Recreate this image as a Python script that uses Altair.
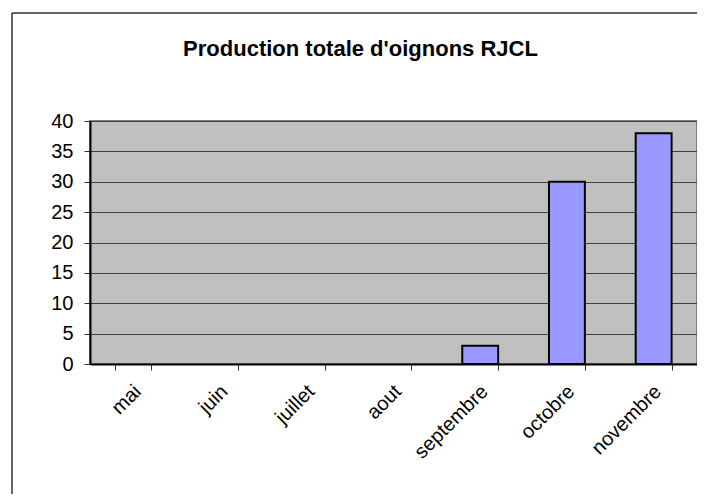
import altair as alt
import pandas as pd

months = ["mai", "juin", "juillet", "aout", "septembre", "octobre", "novembre"]
production = [0, 0, 0, 0, 3, 30, 38]
y_ticks = [0, 5, 10, 15, 20, 25, 30, 35, 40]
title_text = "Production totale d'oignons RJCL"

df = pd.DataFrame({"mois": months, "production": production})
one = pd.DataFrame({"t": [title_text]})

FONT = "Liberation Sans"

bars = alt.Chart(df).transform_filter("datum.production > 0").mark_bar(
    fill="#9999FF", stroke="black", strokeWidth=2
).encode(
    x=alt.X(
        "mois:N",
        sort=months,
        scale=alt.Scale(domain=months, paddingInner=0.586, paddingOuter=0.293),
        axis=alt.Axis(
            title=None, labelAngle=315, labelAlign="right", labelBaseline="top",
            labelFont=FONT, labelFontSize=20, labelColor="black",
            tickBand="extent", ticks=True, tickSize=6, tickColor="#333333",
            domainColor="black", domainWidth=2, labelPadding=11, labelOffset=-3,
            grid=False,
        ),
    ),
    y=alt.Y(
        "production:Q",
        scale=alt.Scale(domain=[0, 40], nice=False),
        axis=alt.Axis(
            title=None, values=y_ticks, grid=True, gridColor="#404040", gridWidth=1,
            labelFont=FONT, labelFontSize=20, labelColor="black",
            tickSize=6, tickColor="#333333", domainColor="black", domainWidth=2,
            labelPadding=11,
        ),
    ),
)

title = alt.Chart(one).mark_text(
    font=FONT, fontSize=22, fontWeight="bold", color="black", align="center", baseline="alphabetic"
).encode(text="t:N", x=alt.value(270.5), y=alt.value(-65))

left_border = alt.Chart(one).mark_rule(color="#333333", strokeWidth=1.5).encode(
    x=alt.value(-78), y=alt.value(-108), y2=alt.value(400)
)
top_border = alt.Chart(one).mark_rule(color="#333333", strokeWidth=1.5).encode(
    x=alt.value(-78), x2=alt.value(700), y=alt.value(-108)
)

chart = alt.layer(left_border, top_border, title, bars).properties(
    width=607, height=243,
    autosize=alt.AutoSizeParams(type="none"),
    padding={"left": 82, "top": 113, "right": 0, "bottom": 130},
    background="white",
).configure_view(fill="#C0C0C0", stroke="#808080", strokeWidth=2)

chart.save("out.html", embed_options={"renderer": "svg", "actions": False})
